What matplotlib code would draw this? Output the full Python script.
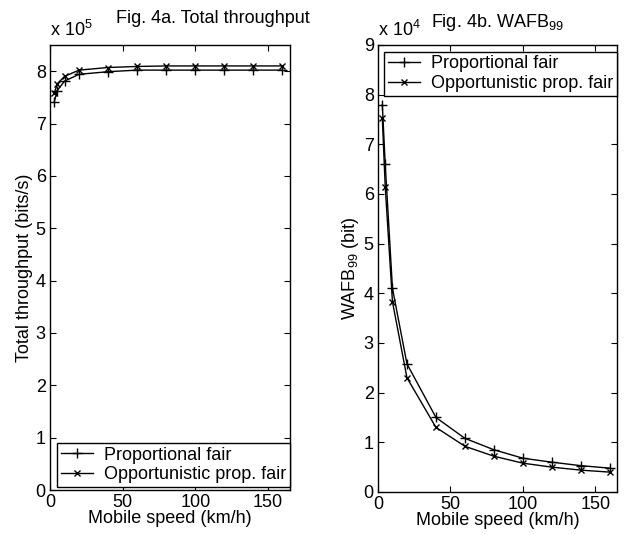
import matplotlib
matplotlib.use('Agg')
import matplotlib.pyplot as plt

plt.rcParams['font.family'] = ['Liberation Sans', 'DejaVu Sans']
plt.rcParams['mathtext.fontset'] = 'custom'
plt.rcParams['mathtext.rm'] = 'Liberation Sans'
plt.rcParams['mathtext.it'] = 'Liberation Sans'

# data
speed = [3, 5, 10, 20, 40, 60, 80, 100, 120, 140, 160]

thr_pf = [7.42e5, 7.63e5, 7.81e5, 7.94e5, 7.99e5, 8.02e5, 8.02e5, 8.02e5, 8.02e5, 8.02e5, 8.02e5]
thr_opf = [7.58e5, 7.76e5, 7.90e5, 8.02e5, 8.07e5, 8.09e5, 8.10e5, 8.10e5, 8.10e5, 8.10e5, 8.10e5]

wafb_pf = [7.8e4, 6.6e4, 4.1e4, 2.58e4, 1.5e4, 1.08e4, 0.85e4, 0.68e4, 0.60e4, 0.53e4, 0.48e4]
wafb_opf = [7.53e4, 6.15e4, 3.83e4, 2.3e4, 1.3e4, 0.92e4, 0.72e4, 0.58e4, 0.50e4, 0.44e4, 0.40e4]

labels = ['Proportional fair', 'Opportunistic prop. fair']
fs = 13

fig = plt.figure(figsize=(6.31, 5.35), dpi=100)
ax1 = fig.add_axes([0.0792, 0.0841, 0.380, 0.8318])
ax2 = fig.add_axes([0.599, 0.0804, 0.379, 0.8355])


def style(ax):
    ax.tick_params(direction='in', top=True, right=True, labelsize=fs, length=4, width=0.8, pad=3)
    for s in ax.spines.values():
        s.set_linewidth(1.0)
    ax.set_xlim(0, 165)
    ax.set_xticks([0, 50, 100, 150])


# Fig 4a
ax1.plot(speed, [v / 1e5 for v in thr_pf], 'k-', marker='+', ms=7, lw=1, label=labels[0])
ax1.plot(speed, [v / 1e5 for v in thr_opf], 'k-', marker='x', ms=5, lw=1, label=labels[1])
style(ax1)
ax1.set_ylim(0, 8.5)
ax1.set_yticks(range(0, 9))
ax1.set_xlabel('Mobile speed (km/h)', fontsize=fs, labelpad=-1)
ax1.set_ylabel('Total throughput (bits/s)', fontsize=fs, labelpad=2)
ax1.set_title('Fig. 4a. Total throughput', fontsize=fs, x=0.68, pad=16)
ax1.text(0, 1.012, r'x 10$^{5}$', transform=ax1.transAxes, fontsize=fs, ha='left', va='bottom')
ax1.legend(loc='lower left', bbox_to_anchor=(0.029, 0.007), borderaxespad=0, fontsize=fs,
           fancybox=False, edgecolor='black', framealpha=1, handlelength=1.8,
           handletextpad=0.6, borderpad=0.2, labelspacing=0.15)

# Fig 4b
ax2.plot(speed, [v / 1e4 for v in wafb_pf], 'k-', marker='+', ms=7, lw=1, label=labels[0])
ax2.plot(speed, [v / 1e4 for v in wafb_opf], 'k-', marker='x', ms=5, lw=1, label=labels[1])
style(ax2)
ax2.set_ylim(0, 9)
ax2.set_yticks(range(0, 10))
ax2.set_xlabel('Mobile speed (km/h)', fontsize=fs, labelpad=-1)
ax2.set_ylabel(r'WAFB$_{99}$ (bit)', fontsize=fs, labelpad=2)
ax2.set_title(r'Fig. 4b. WAFB$_{99}$', fontsize=fs, pad=13)
ax2.text(0, 1.012, r'x 10$^{4}$', transform=ax2.transAxes, fontsize=fs, ha='left', va='bottom')
ax2.legend(loc='upper left', bbox_to_anchor=(0.025, 0.985), borderaxespad=0, fontsize=fs,
           fancybox=False, edgecolor='black', framealpha=1, handlelength=1.8,
           handletextpad=0.6, borderpad=0.2, labelspacing=0.15)

fig.savefig('out.png', dpi=100)
